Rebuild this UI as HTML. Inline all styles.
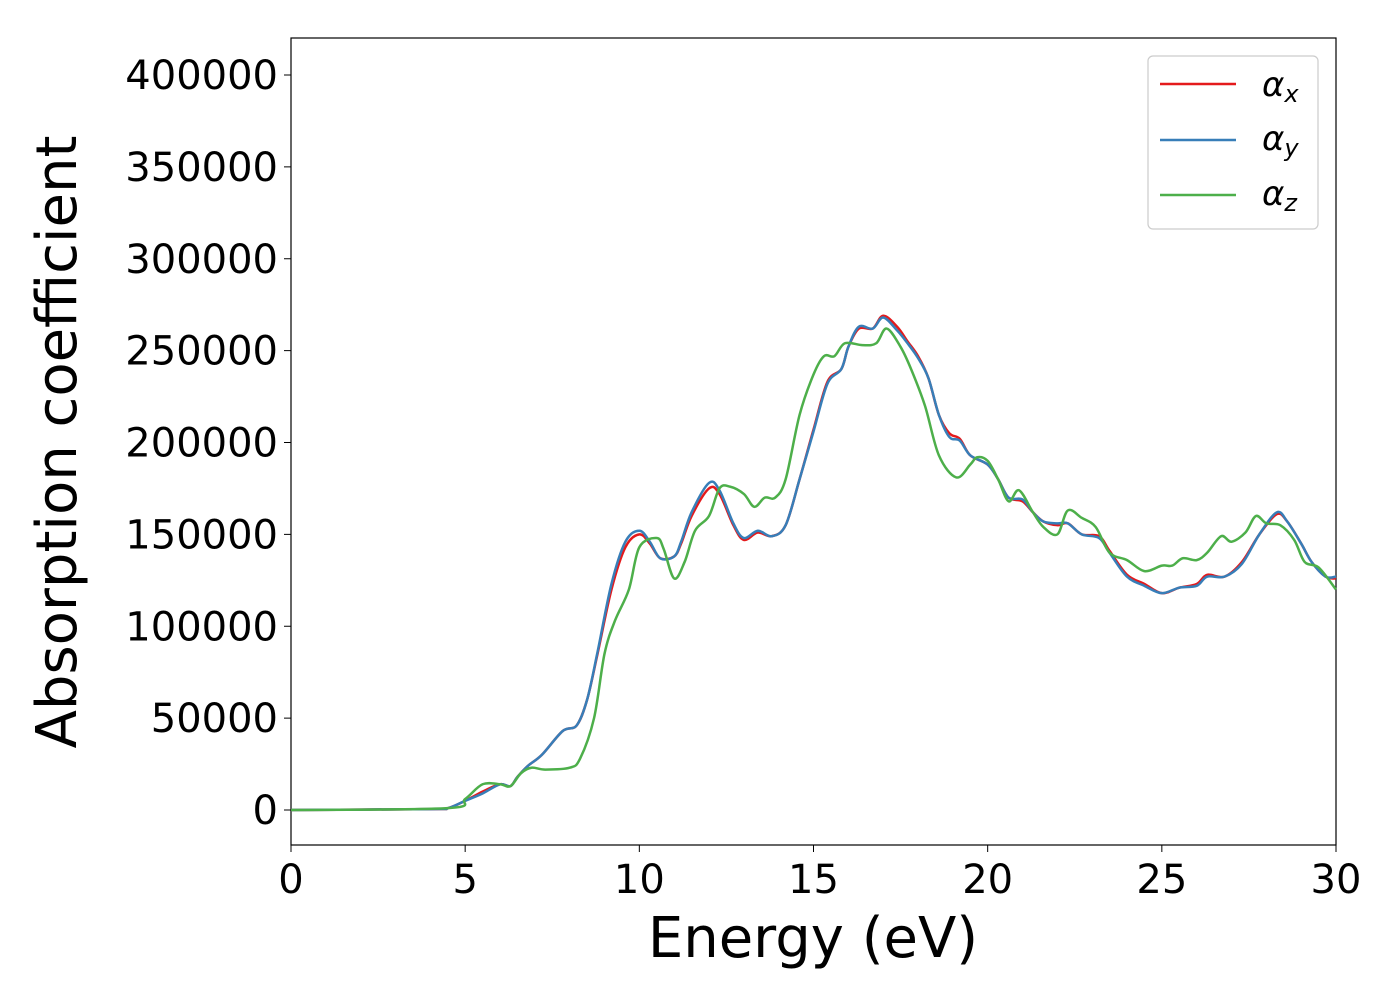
<!DOCTYPE html>
<html><head><meta charset="utf-8"><style>
html,body{margin:0;padding:0;background:#fff}
svg{display:block;font-family:"DejaVu Sans","Liberation Sans",sans-serif}
</style></head><body>
<svg width="1400" height="1000" id="chart">
<rect x="291" y="38" width="1045" height="807" fill="#fff" stroke="#000" stroke-width="1.2"/>
<g id="series"></g>
<g id="axes"></g>
<text x="813" y="957" font-size="56" text-anchor="middle">Energy (eV)</text>
<text transform="translate(76,442) rotate(-90)" font-size="56" text-anchor="middle">Absorption coefficient</text>
<g>
<rect x="1148" y="56" width="170" height="173" rx="5" fill="#fff" stroke="#ccc" stroke-width="1.2"/>
<line x1="1160" y1="84" x2="1236" y2="84" stroke="#e41a1c" stroke-width="2.5"/>
<text x="1262" y="96" font-size="34" font-style="italic">α<tspan font-size="24" dy="6">x</tspan></text>
<line x1="1160" y1="140" x2="1236" y2="140" stroke="#377eb8" stroke-width="2.5"/>
<text x="1262" y="150" font-size="34" font-style="italic">α<tspan font-size="24" dy="6">y</tspan></text>
<line x1="1160" y1="195" x2="1236" y2="195" stroke="#4daf4a" stroke-width="2.5"/>
<text x="1262" y="205" font-size="34" font-style="italic">α<tspan font-size="24" dy="6">z</tspan></text>
</g>
</svg>
<script>
const xTicks=[0,5,10,15,20,25,30];
const yTicks=[0,50000,100000,150000,200000,250000,300000,350000,400000];
const energyX=[0,4,4.5,5,5.5,6,6.3,6.5,6.8,7.2,7.8,8.2,8.5,8.8,9.2,9.6,10,10.3,10.6,11,11.2,11.5,12,12.3,12.7,13,13.4,13.8,14.2,14.6,15,15.4,15.8,16,16.3,16.7,17,17.4,17.7,18,18.3,18.6,18.9,19.2,19.5,20,20.3,20.6,21,21.3,21.6,22,22.3,22.7,23.2,23.5,24,24.5,25,25.5,26,26.3,26.8,27.3,27.8,28.3,28.6,29,29.3,29.7,30];
const alphaX=[0,0.5,1,5,10,14,13,18,24,30,43,46,60,85,120,143,150,145,137,138,145,160,175,172,155,147,151,149,155,180,207,233,240,252,262,262,269,263,255,247,235,215,205,202,193,188,180,170,168,162,157,155,156,150,149,141,128,123,118,121,123,128,127,135,150,161,157,145,135,127,126];
const alphaY=[0,0.5,1,5,9,14,13,18,24,30,43,46,60,86,123,146,152,146,137,138,146,162,178,174,156,148,152,149,155,180,206,232,240,252,263,262,268,261,254,246,235,215,203,201,193,188,180,170,169,162,157,156,156,150,148,140,127,122,118,121,122,127,127,134,150,162,157,145,135,127,127];
const energyZ=[0,4.5,5,5.5,6,6.3,6.6,6.9,7.3,8,8.3,8.7,9,9.3,9.7,10,10.5,10.7,11,11.3,11.6,12,12.3,12.6,13,13.3,13.6,13.9,14.2,14.6,15,15.3,15.6,15.9,16.4,16.8,17.1,17.5,17.8,18.2,18.6,19.1,19.5,19.7,20,20.3,20.6,20.9,21.3,21.6,22,22.3,22.7,23.1,23.5,24,24.5,25,25.3,25.6,26,26.3,26.7,27,27.4,27.7,28,28.4,28.8,29.1,29.5,30];
const alphaZ=[0,1,6,14,14,13,20,23,22,23,28,50,85,103,120,143,148,142,126,135,152,160,175,176,172,165,170,170,180,215,237,247,247,254,253,254,262,252,240,220,193,181,188,192,190,180,168,174,162,154,150,163,159,154,140,136,130,133,133,137,136,140,149,146,151,160,156,155,147,135,132,120];
const X0=291,X1=1336,Y0=810,PY=735/400000;
const sx=v=>X0+(v-0)*(X1-X0)/30;
const sy=v=>Y0-v*PY;
const NS="http://www.w3.org/2000/svg";
const axes=document.getElementById('axes');
xTicks.forEach(t=>{
  const l=document.createElementNS(NS,'line');
  l.setAttribute('x1',sx(t));l.setAttribute('x2',sx(t));l.setAttribute('y1',845);l.setAttribute('y2',852);l.setAttribute('stroke','#000');
  
  
  axes.appendChild(l);
  const tx=document.createElementNS(NS,'text');
  tx.setAttribute('x',sx(t));tx.setAttribute('y',893);tx.setAttribute('font-size','40');tx.setAttribute('text-anchor','middle');
  tx.textContent=t;
  
  
  axes.appendChild(tx);
});
yTicks.forEach(t=>{
  const l=document.createElementNS(NS,'line');
  l.setAttribute('x1',284);l.setAttribute('x2',291);l.setAttribute('y1',sy(t));l.setAttribute('y2',sy(t));l.setAttribute('stroke','#000');
  
  
  axes.appendChild(l);
  const tx=document.createElementNS(NS,'text');
  tx.setAttribute('x',278);tx.setAttribute('y',sy(t)+14);tx.setAttribute('font-size','40');tx.setAttribute('text-anchor','end');
  tx.textContent=t;
  
  
  axes.appendChild(tx);
});
function path(xs,ys){
  const p=xs.map((x,i)=>[sx(x),sy(ys[i]*1000)]);
  let d='M'+p[0][0]+','+p[0][1];
  for(let i=0;i<p.length-1;i++){
    const a=p[Math.max(0,i-1)],b=p[i],c=p[i+1],e=p[Math.min(p.length-1,i+2)];
    const c1=[b[0]+(c[0]-a[0])/6,b[1]+(c[1]-a[1])/6],c2=[c[0]-(e[0]-b[0])/6,c[1]-(e[1]-b[1])/6];
    d+=' C'+c1+' '+c2+' '+c;
  }
  return d;
}
const g=document.getElementById('series');
[[energyX,alphaX,'#e41a1c','series-alpha-x'],[energyX,alphaY,'#377eb8','series-alpha-y'],[energyZ,alphaZ,'#4daf4a','series-alpha-z']].forEach(s=>{
  const p=document.createElementNS(NS,'path');
  p.setAttribute('d',path(s[0],s[1]));p.setAttribute('fill','none');p.setAttribute('stroke',s[2]);p.setAttribute('stroke-width','2.5');
  
  
  g.appendChild(p);
});
</script>
</body></html>
